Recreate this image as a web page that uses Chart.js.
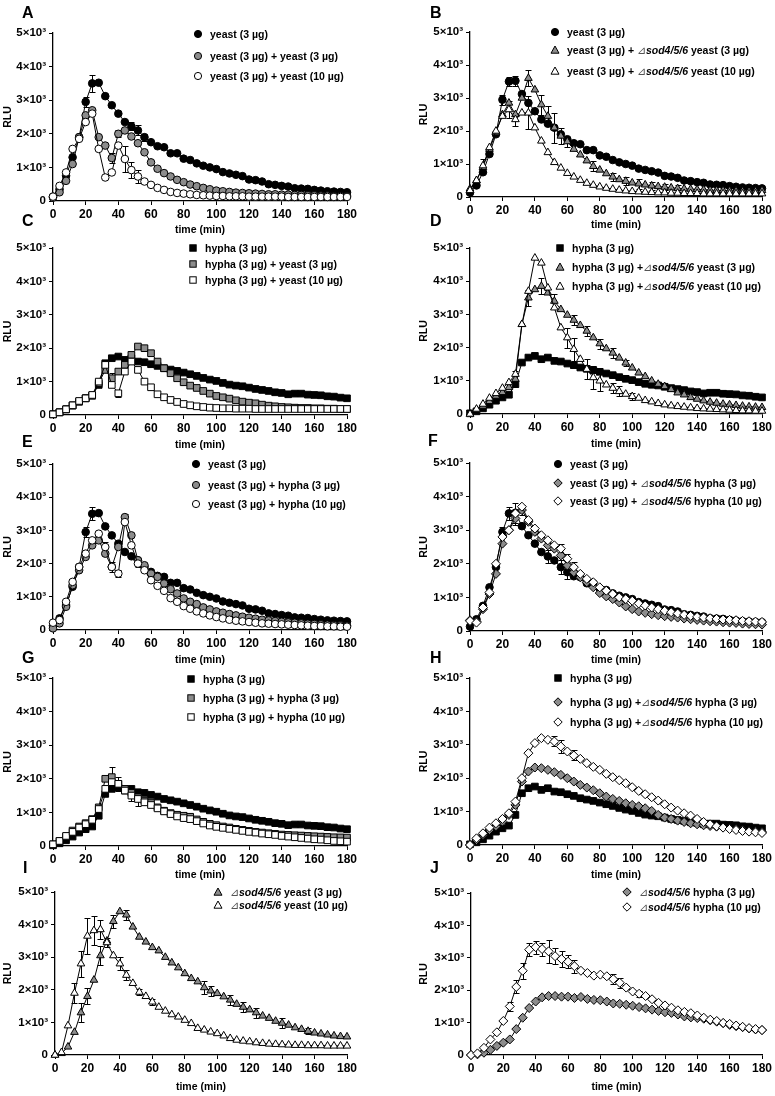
<!DOCTYPE html>
<html><head><meta charset="utf-8">
<script src="https://cdn.jsdelivr.net/npm/chart.js@4.4.1/dist/chart.umd.min.js"></script>
<style>
html,body{margin:0;padding:0;background:#fff;}
body{width:775px;height:1096px;position:relative;overflow:hidden;font-family:"Liberation Sans",Arial,Helvetica,sans-serif;color:#000;}
.lbl{position:absolute;font-weight:bold;font-size:16px;line-height:16px;}
.leg{position:absolute;font-weight:bold;font-size:10.5px;line-height:12px;height:12px;white-space:nowrap;display:flex;align-items:center;}
.leg svg{margin-right:7px;flex:none;}
.leg .tri{font-weight:normal;color:#555;}
</style></head><body>
<script>
// ---------------- data ----------------
const times = [0,4,8,12,16,20,24,28,32,36,40,44,48,52,56,60,64,68,72,76,80,84,88,92,96,100,104,108,112,116,120,124,128,132,136,140,144,148,152,156,160,164,168,172,176,180];
const xTickStep = 20;
const yTickLabels = ['0','1×10³','2×10³','3×10³','4×10³','5×10³'];

const yeast3 = [130,350,750,1300,1900,2950,3500,3520,3120,2850,2600,2350,2220,2100,1900,1750,1630,1600,1420,1420,1260,1220,1120,1050,1000,950,860,820,780,740,640,620,580,500,480,450,430,380,370,360,330,310,290,280,270,260];
const hypha3 = [20,80,170,280,400,500,580,900,1550,1700,1750,1650,1700,1600,1580,1520,1470,1400,1360,1320,1270,1220,1170,1110,1060,1020,960,910,880,860,820,780,750,720,680,660,620,640,640,610,600,590,560,550,520,500];

const aGray  = [100,260,600,1100,1900,2550,2700,1900,1650,1280,2000,2100,1920,1720,1450,1150,960,830,730,630,560,490,440,390,350,310,290,270,250,240,230,220,210,200,200,190,190,180,180,170,170,160,160,150,150,150];
const aWhite = [130,450,850,1550,1850,2350,2600,1550,700,850,1650,1250,920,730,580,480,390,330,270,240,220,200,180,170,160,150,150,140,140,140,130,130,130,130,130,130,120,120,120,120,120,120,120,120,120,120];
const bGray  = [250,500,900,1450,1950,2500,2850,2500,3000,3600,3250,2800,2450,2100,1850,1680,1450,1280,1100,930,820,710,610,530,480,430,400,370,340,320,300,280,260,250,240,230,220,210,200,200,190,190,180,180,180,200];
const bWhite = [200,500,950,1500,2000,2450,2650,2350,2550,2550,2100,1700,1350,1050,880,720,610,510,420,360,310,270,240,210,190,170,160,150,140,130,130,120,120,110,110,110,100,100,100,100,100,100,100,100,100,100];
const cGray  = [20,80,170,290,400,500,580,950,1350,1100,1300,1500,1800,2050,2000,1850,1600,1400,1250,1100,980,880,810,720,640,570,530,490,440,400,370,350,310,280,260,240,230,220,210,210,200,200,190,190,180,180];
const cWhite = [20,80,170,290,420,500,600,1000,1500,900,650,1300,1600,1350,1000,830,620,530,450,390,330,290,260,240,220,210,200,200,190,190,190,180,180,180,180,180,180,180,180,180,180,180,180,180,180,180];
const dGray  = [0,130,240,380,540,650,800,1050,2700,3500,3750,3850,3650,3400,3150,2980,2830,2670,2500,2300,2120,1970,1840,1690,1540,1390,1240,1130,1000,900,830,740,640,580,500,450,400,360,330,300,280,260,240,220,210,200];
const dWhite = [0,150,300,480,620,780,950,1200,2700,3700,4700,4550,3800,3200,2600,2300,1950,1650,1350,1100,1000,880,780,680,600,530,480,410,370,320,280,250,230,210,190,170,160,150,140,130,120,110,100,100,90,90];
const eGray  = [50,200,700,1350,1800,2200,2550,2700,2300,1900,2500,3400,2850,2100,1950,1700,1600,1400,1230,1100,950,850,780,680,620,560,520,480,440,400,370,340,310,290,270,250,230,220,200,190,180,170,160,150,140,130];
const eWhite = [220,300,850,1450,1900,2300,2700,2900,2500,1900,1700,3250,2550,2000,1800,1500,1330,1180,960,850,720,640,560,500,440,390,350,310,280,260,240,220,200,190,180,170,160,150,140,130,120,120,110,110,100,100];
const fGray  = [320,280,650,1100,1700,2600,3000,3350,3600,3250,2950,2750,2550,2450,2250,1950,1750,1600,1450,1300,1130,1030,950,850,730,650,580,540,500,470,440,420,400,370,350,330,310,290,280,260,250,240,220,210,200,190];
const fWhite = [300,250,700,1150,2000,2800,3000,3500,3700,3300,3050,2850,2700,2550,2450,2150,1900,1700,1550,1450,1300,1200,1100,1000,950,900,820,760,700,650,600,560,520,480,450,420,400,380,360,340,330,320,300,290,280,270];
const gGray  = [50,150,280,460,580,680,800,1150,2000,2050,1850,1700,1580,1450,1350,1280,1150,1050,980,930,900,870,790,720,660,620,580,550,510,480,450,420,400,380,360,340,330,320,310,300,290,280,270,260,255,250];
const gWhite = [50,150,300,420,550,650,780,1100,1700,1900,1850,1650,1500,1400,1300,1220,1120,1030,950,880,830,800,740,670,610,570,540,510,480,450,420,400,370,350,330,300,280,260,240,220,200,190,170,150,140,130];
const hGray  = [0,150,300,450,560,700,900,1200,1900,2200,2320,2300,2250,2180,2100,2000,1900,1800,1720,1640,1550,1450,1380,1320,1250,1200,1160,1100,1020,900,820,780,730,690,650,620,590,570,550,530,500,480,460,430,410,390];
const hWhite = [0,200,350,520,650,780,950,1300,2000,2750,3050,3200,3150,3100,2950,2800,2680,2580,2450,2340,2250,2130,2030,1940,1850,1730,1620,1520,1430,1330,1220,1120,1030,950,880,780,690,620,560,520,480,450,420,400,380,360];
const iGray  = [0,50,250,700,1300,1800,2300,3050,3500,4100,4400,4300,3930,3620,3470,3300,3200,3000,2830,2680,2500,2350,2250,2070,1970,1890,1790,1690,1560,1470,1390,1300,1200,1130,1040,980,920,840,790,730,680,650,620,590,570,560];
const iWhite = [0,80,900,1900,2800,3650,3820,3850,3450,3050,2800,2450,2200,1930,1800,1630,1470,1350,1240,1170,1070,970,820,770,710,660,590,510,460,430,410,380,360,340,330,320,310,300,300,290,290,290,280,280,280,280];
const jGray  = [0,20,70,160,280,380,480,800,1150,1450,1650,1780,1820,1820,1800,1800,1760,1790,1730,1700,1690,1650,1590,1580,1550,1520,1480,1440,1400,1360,1320,1300,1250,1190,1160,1140,1120,1070,1030,980,930,890,860,820,790,770];
const jWhite = [0,50,220,480,700,1050,1500,2100,2600,3250,3330,3270,3200,3050,2960,2880,2740,2600,2530,2450,2480,2430,2340,2230,2080,1960,1890,1820,1720,1610,1530,1460,1380,1330,1290,1220,1150,1090,1050,990,960,910,870,830,800,770];

// error bars (time -> error)
const errA0 = {20:150,24:250,48:120,52:150,56:100};
const errA1 = {36:150,40:100};
const errA2 = {44:400,48:250,52:200};
const errB0 = {20:150,24:150,28:150};
const errB1 = {36:250,44:300,48:300,52:450,56:250,60:150,76:150,88:120,96:120,104:150,112:120,120:100,128:100};
const errB2 = {8:200,24:250,28:200,36:500};
const errC0 = {};
const errC1 = {36:150,48:100};
const errC2 = {32:80,40:100};
const errD0 = {};
const errD1 = {28:250,36:250,44:250,52:200,64:150,72:150,80:150,88:150,96:100};
const errD2 = {60:300,64:350,72:300,76:350,80:300,88:150,92:150,100:100};
const errE0 = {20:150,24:200};
const errE1 = {36:150,44:100};
const errE2 = {32:150,40:100,52:100};
const errF0 = {20:150,24:200,48:200,56:200,60:200};
const errF1 = {28:200,32:150};
const errF2 = {28:300,56:150,60:150,64:150};
const errG0 = {};
const errG1 = {36:300,40:200};
const errG2 = {48:150,52:200};
const errH0 = {};
const errH1 = {};
const errH2 = {52:150,56:200,64:150};
const errI1 = {16:300,20:250,28:300,36:200,44:150,92:200,96:150,108:150,116:150,124:150,140:150,156:100};
const errI2 = {12:300,16:400,20:550,24:450,28:300,32:150,40:200,44:150,52:100,60:100};
const errJ1 = {};
const errJ2 = {24:150,28:200,32:250,36:200,40:200,44:200,48:350,52:250,56:250,60:200,64:200,88:150,92:150,104:100};

// legend labels
const legA = ['yeast (3 µg)','yeast (3 µg) + yeast (3 µg)','yeast (3 µg) + yeast (10 µg)'];
const legB = ['yeast (3 µg)','yeast (3 µg) + ⊿sod4/5/6 yeast (3 µg)','yeast (3 µg) + ⊿sod4/5/6 yeast (10 µg)'];
const legC = ['hypha (3 µg)','hypha (3 µg) + yeast (3 µg)','hypha (3 µg) + yeast (10 µg)'];
const legD = ['hypha (3 µg)','hypha (3 µg) +⊿sod4/5/6 yeast (3 µg)','hypha (3 µg) +⊿sod4/5/6 yeast (10 µg)'];
const legE = ['yeast (3 µg)','yeast (3 µg) + hypha (3 µg)','yeast (3 µg) + hypha (10 µg)'];
const legF = ['yeast (3 µg)','yeast (3 µg) + ⊿sod4/5/6 hypha (3 µg)','yeast (3 µg) + ⊿sod4/5/6 hypha (10 µg)'];
const legG = ['hypha (3 µg)','hypha (3 µg) + hypha (3 µg)','hypha (3 µg) + hypha (10 µg)'];
const legH = ['hypha (3 µg)','hypha (3 µg) +⊿sod4/5/6 hypha (3 µg)','hypha (3 µg) +⊿sod4/5/6 hypha (10 µg)'];
const legI = ['⊿sod4/5/6 yeast (3 µg)','⊿sod4/5/6 yeast (10 µg)'];
const legJ = ['⊿sod4/5/6 hypha (3 µg)','⊿sod4/5/6 hypha (10 µg)'];

// ---------------- styles / layout ----------------
const FILL = {black:'#000', gray:'#8c8c8c', white:'#fff'};
const SHAPE = {circle:{ps:'circle',r:3.8}, square:{ps:'rect',r:4.7}, triangle:{ps:'triangle',r:4.4}, diamond:{ps:'rectRot',r:4.5}};
const ORDER = {black:3, gray:2, white:1};

const panels = [
 {id:'A', cx:0,   cy:0,   ch:240, L:53, T:33, R:347, B:201, xt:230, yt:8,   legX:198, rows:[34,56,76],   letter:[22,5],
  series:[[yeast3,'black','circle',errA0],[aGray,'gray','circle',errA1],[aWhite,'white','circle',errA2]], legend:legA},
 {id:'B', cx:385, cy:0,   ch:240, L:470,T:32, R:762, B:197, xt:225, yt:424, legX:555, rows:[32,50,71],   letter:[430,5],
  series:[[yeast3,'black','circle',errB0],[bGray,'gray','triangle',errB1],[bWhite,'white','triangle',errB2]], legend:legB},
 {id:'C', cx:0,   cy:215, ch:240, L:53, T:248,R:347, B:415, xt:445, yt:8,   legX:193, rows:[248,264,280], letter:[22,213],
  series:[[hypha3,'black','square',errC0],[cGray,'gray','square',errC1],[cWhite,'white','square',errC2]], legend:legC},
 {id:'D', cx:385, cy:215, ch:240, L:470,T:248,R:762, B:414, xt:444, yt:424, legX:560, rows:[248,267,286], letter:[430,213],
  series:[[hypha3,'black','square',errD0],[dGray,'gray','triangle',errD1],[dWhite,'white','triangle',errD2]], legend:legD},
 {id:'E', cx:0,   cy:430, ch:240, L:53, T:464,R:347, B:630, xt:660, yt:8,   legX:196, rows:[464,485,504], letter:[22,434],
  series:[[yeast3,'black','circle',errE0],[eGray,'gray','circle',errE1],[eWhite,'white','circle',errE2]], legend:legE},
 {id:'F', cx:385, cy:430, ch:240, L:470,T:463,R:762, B:631, xt:660, yt:424, legX:558, rows:[464,483,501], letter:[428,433],
  series:[[yeast3,'black','circle',errF0],[fGray,'gray','diamond',errF1],[fWhite,'white','diamond',errF2]], legend:legF},
 {id:'G', cx:0,   cy:645, ch:240, L:53, T:678,R:347, B:846, xt:875, yt:8,   legX:191, rows:[679,698,717], letter:[22,650],
  series:[[hypha3,'black','square',errG0],[gGray,'gray','square',errG1],[gWhite,'white','square',errG2]], legend:legG},
 {id:'H', cx:385, cy:645, ch:240, L:470,T:678,R:762, B:845, xt:875, yt:424, legX:558, rows:[678,702,722], letter:[430,650],
  series:[[hypha3,'black','square',errH0],[hGray,'gray','diamond',errH1],[hWhite,'white','diamond',errH2]], legend:legH},
 {id:'I', cx:0,   cy:860, ch:236, L:55, T:892,R:347, B:1055,xt:1087,yt:8,   legX:218, rows:[892,905],     letter:[23,860],
  series:[[iGray,'gray','triangle',errI1],[iWhite,'white','triangle',errI2]], legend:legI},
 {id:'J', cx:385, cy:860, ch:236, L:471,T:893,R:762, B:1055,xt:1087,yt:424, legX:627, rows:[892,907],     letter:[430,860],
  series:[[jGray,'gray','diamond',errJ1],[jWhite,'white','diamond',errJ2]], legend:legJ},
];

Chart.defaults.font.family = '"Liberation Sans", Arial, Helvetica, sans-serif';
Chart.defaults.color = '#000';

const errPlugin = {
  id:'errbars',
  beforeDatasetsDraw(chart){
    const {ctx} = chart; const xs = chart.scales.x, ys = chart.scales.y;
    ctx.save(); ctx.strokeStyle = '#000'; ctx.lineWidth = 1;
    chart.data.datasets.forEach(ds => {
      if (!ds.errs) return;
      Object.keys(ds.errs).forEach(k => {
        const t = +k, e = ds.errs[k];
        const i = times.indexOf(t); if (i < 0) return;
        const v = ds.data[i].y;
        const px = Math.round(xs.getPixelForValue(t)) + 0.5;
        const yt = Math.round(ys.getPixelForValue(v + e)) + 0.5;
        const yb = Math.round(ys.getPixelForValue(Math.max(0, v - e))) + 0.5;
        ctx.beginPath();
        ctx.moveTo(px, yb); ctx.lineTo(px, yt);
        ctx.moveTo(px - 3, yt); ctx.lineTo(px + 3, yt);
        ctx.moveTo(px - 3, yb); ctx.lineTo(px + 3, yb);
        ctx.stroke();
      });
    });
    ctx.restore();
  }
};

function markerSVG(fill, shape){
  const f = FILL[fill];
  let s;
  if (shape === 'circle') s = `<circle cx="5" cy="5" r="3.6" fill="${f}" stroke="#000" stroke-width="1"/>`;
  else if (shape === 'square') s = `<rect x="1.8" y="1.8" width="6.4" height="6.4" fill="${f}" stroke="#000" stroke-width="1"/>`;
  else if (shape === 'triangle') s = `<polygon points="5,1 9,8.2 1,8.2" fill="${f}" stroke="#000" stroke-width="1"/>`;
  else s = `<polygon points="5,0.8 9.2,5 5,9.2 0.8,5" fill="${f}" stroke="#000" stroke-width="1"/>`;
  return `<svg width="10" height="10" viewBox="0 0 10 10">${s}</svg>`;
}

const XTICKFONT = {size:12, weight:'bold'};
const YTICKFONT = {size:11.5, weight:'bold'};
const TITLEFONT = {size:10.5, weight:'bold'};
const LH = 10.5 * 1.2;

panels.forEach(p => {
  const cw = p.cx === 0 ? 385 : 390;
  const cv = document.createElement('canvas');
  cv.width = cw; cv.height = p.ch;
  cv.style.cssText = `position:absolute;left:${p.cx}px;top:${p.cy}px;width:${cw}px;height:${p.ch}px;`;
  document.body.appendChild(cv);

  const datasets = p.series.map(s => {
    const [vals, fill, shape, errs] = s;
    const sh = SHAPE[shape];
    return {
      data: times.map((t, i) => ({x: t, y: vals[i]})),
      errs,
      borderColor: '#000', borderWidth: 1, tension: 0, fill: false, clip: false,
      pointStyle: sh.ps, pointRadius: sh.r, pointHoverRadius: sh.r,
      pointBackgroundColor: FILL[fill], pointBorderColor: '#000', pointBorderWidth: 1,
      order: ORDER[fill]
    };
  });

  new Chart(cv, {
    type: 'line',
    data: {datasets},
    plugins: [errPlugin],
    options: {
      responsive: false, animation: false, devicePixelRatio: 1, events: [],
      layout: {padding: {left: 0, top: p.T - p.cy, right: p.cx + cw - p.R, bottom: 0}},
      plugins: {legend: {display: false}, tooltip: {enabled: false}},
      scales: {
        x: {
          type: 'linear', min: 0, max: 180,
          ticks: {stepSize: xTickStep, font: XTICKFONT, color: '#000', padding: 2, maxRotation: 0, autoSkip: false},
          grid: {display: true, drawOnChartArea: false, drawTicks: true, tickLength: 4, color: '#000', lineWidth: 1},
          border: {display: true, color: '#000', width: 1.3},
          title: {display: true, text: 'time (min)', font: TITLEFONT, color: '#000',
                  padding: {top: 0, bottom: p.cy + p.ch - p.xt - LH / 2}},
          afterFit: s => { s.height = p.cy + p.ch - p.B; }
        },
        y: {
          type: 'linear', min: 0, max: 5000,
          ticks: {stepSize: 1000, font: YTICKFONT, color: '#000', padding: 3,
                  callback: v => yTickLabels[Math.round(v / 1000)]},
          grid: {display: true, drawOnChartArea: false, drawTicks: true, tickLength: 4, color: '#000', lineWidth: 1},
          border: {display: true, color: '#000', width: 1.3},
          title: {display: true, text: 'RLU', font: TITLEFONT, color: '#000',
                  padding: {top: p.yt - p.cx - LH / 2, bottom: 0}},
          afterFit: s => { s.width = p.L - p.cx; }
        }
      }
    }
  });

  // panel letter
  const lt = document.createElement('div');
  lt.className = 'lbl';
  lt.style.left = p.letter[0] + 'px'; lt.style.top = p.letter[1] + 'px';
  lt.textContent = p.id;
  document.body.appendChild(lt);

  // legend
  p.legend.forEach((txt, k) => {
    const s = p.series[k];
    const d = document.createElement('div');
    d.className = 'leg';
    d.style.left = (p.legX - 5) + 'px';
    d.style.top = (p.rows[k] - 6) + 'px';
    const html = txt.replace('⊿sod4/5/6', '<span class="tri">⊿</span><i>sod4/5/6</i>');
    d.innerHTML = markerSVG(s[1], s[2]) + '<span>' + html + '</span>';
    document.body.appendChild(d);
  });
});
</script>
</body></html>
